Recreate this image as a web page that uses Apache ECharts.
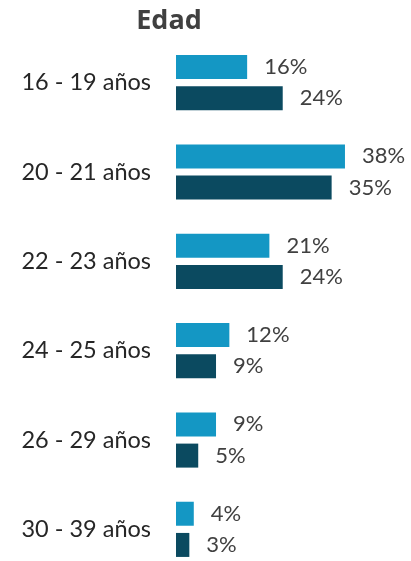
<!DOCTYPE html>
<html><head><meta charset="utf-8">
<script src="https://cdn.jsdelivr.net/npm/echarts@6/dist/echarts.min.js"></script>
<style>html,body{margin:0;padding:0;background:#fff;overflow:hidden}#c{width:411px;height:575px}</style>
</head><body><div id="c"></div>
<script>
const categories = ['16 - 19 años','20 - 21 años','22 - 23 años','24 - 25 años','26 - 29 años','30 - 39 años'];
const serieA = [16, 38, 21, 12, 9, 4];
const serieB = [24, 35, 24, 9, 5, 3];
const FONT = "Lato, 'Open Sans', sans-serif";
const chart = echarts.init(document.getElementById('c'), null, {renderer:'canvas'});
chart.setOption({
  animation:false,
  title:{text:'Edad', left:164, top:3, textAlign:'center',
    textStyle:{fontFamily:"'Open Sans', sans-serif", fontWeight:'bold', fontSize:27, color:'#404040'}},
  grid:{left:176, top:38, right:10, bottom:1, containLabel:false},
  xAxis:{type:'value', min:0, max:50.6, show:false},
  yAxis:{type:'category', data:categories, inverse:true,
    axisLine:{show:false}, axisTick:{show:false},
    axisLabel:{fontFamily:FONT, fontSize:23.5, color:'#262626', margin:25}},
  series:[
    {type:'bar', data:serieA, barWidth:24, barGap:'30%',
     itemStyle:{color:'#1497c4'},
     label:{show:true, position:'right', distance:17, formatter:'{c}%', fontFamily:FONT, fontSize:22, color:'#404040'}},
    {type:'bar', data:serieB, barWidth:24,
     itemStyle:{color:'#0b4a60'},
     label:{show:true, position:'right', distance:17, formatter:'{c}%', fontFamily:FONT, fontSize:22, color:'#404040'}}
  ]
});
</script></body></html>
